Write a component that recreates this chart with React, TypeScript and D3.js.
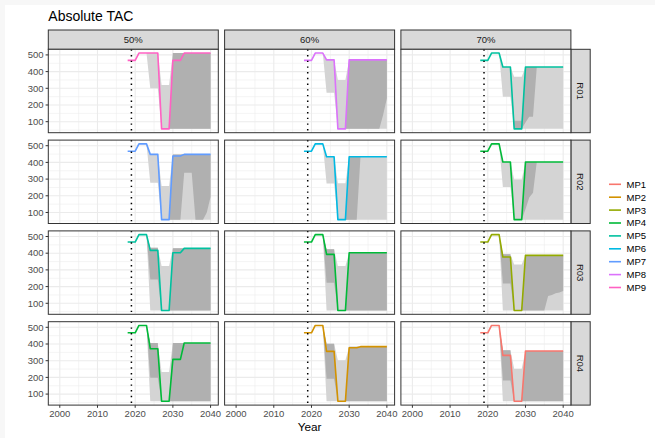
import * as d3 from "d3";

// facets
const scenarios = ["R01", "R02", "R03", "R04"];
const levels = ["50%", "60%", "70%"];
const mpNames = ["MP1", "MP2", "MP3", "MP4", "MP5", "MP6", "MP7", "MP8", "MP9"];
const mpColors = ["#F8766D", "#D39200", "#93AA00", "#00BA38", "#00C19F", "#00B9E3", "#619CFF", "#DB72FB", "#FF61C3"];
// which MP is drawn in each panel (row = scenario, column = level)
const panelMP = [
  [9, 8, 5],
  [7, 6, 4],
  [5, 4, 3],
  [4, 2, 1],
];

const xTicks = [2000, 2010, 2020, 2030, 2040];
const xMinor = [2005, 2015, 2025, 2035];
const yTicks = [100, 200, 300, 400, 500];
const yMinor = [50, 150, 250, 350, 450];
const startYear = 2019;

const years = [2018, 2019, 2020, 2021, 2022, 2023, 2024, 2025, 2026, 2027, 2028, 2029, 2030, 2031, 2032, 2033, 2034, 2035, 2036, 2037, 2038, 2039, 2040];
const ribbonYears = [2023, 2024, 2025, 2026, 2027, 2028, 2029, 2030, 2031, 2032, 2033, 2034, 2035, 2036, 2037, 2038, 2039, 2040];

// median TAC, one row per panel (R01 50/60/70, R02 ..., R04 ...)
const median = [
  [467, 467, 467, 511, 511, 511, 511, 511, 511, 57, 57, 57, 467, 467, 467, 511, 511, 511, 511, 511, 511, 511, 511],
  [467, 467, 467, 511, 511, 511, 470, 470, 470, 57, 57, 57, 470, 470, 470, 470, 470, 470, 470, 470, 470, 470, 470],
  [467, 467, 467, 511, 511, 511, 428, 428, 428, 57, 57, 57, 428, 428, 428, 428, 428, 428, 428, 428, 428, 428, 428],
  [467, 467, 467, 511, 511, 511, 448, 448, 448, 57, 57, 57, 438, 438, 438, 448, 448, 448, 448, 448, 448, 448, 448],
  [467, 467, 467, 511, 511, 511, 434, 434, 434, 57, 57, 57, 434, 434, 434, 434, 434, 434, 434, 434, 434, 434, 434],
  [467, 467, 467, 511, 511, 511, 402, 402, 402, 57, 57, 57, 402, 402, 402, 402, 402, 402, 402, 402, 402, 402, 402],
  [467, 467, 467, 511, 511, 511, 417, 417, 417, 57, 57, 57, 403, 403, 403, 429, 429, 429, 429, 429, 429, 429, 429],
  [467, 467, 467, 511, 511, 511, 393, 393, 393, 57, 57, 57, 403, 403, 403, 403, 403, 403, 403, 403, 403, 403, 403],
  [467, 467, 467, 511, 511, 511, 377, 377, 377, 57, 57, 57, 387, 387, 387, 387, 387, 387, 387, 387, 387, 387, 387],
  [467, 467, 467, 511, 511, 511, 372, 372, 372, 57, 57, 57, 308, 308, 308, 406, 406, 406, 406, 406, 406, 406, 406],
  [467, 467, 467, 511, 511, 511, 356, 356, 356, 57, 57, 57, 378, 378, 378, 384, 384, 384, 384, 384, 384, 384, 384],
  [467, 467, 467, 511, 511, 511, 332, 332, 332, 57, 57, 57, 358, 358, 358, 358, 358, 358, 358, 358, 358, 358, 358],
];

// outer interval (light grey)
const lo90 = [
  [511, 300, 300, 300, 57, 57, 57, 57, 57, 57, 57, 57, 57, 57, 57, 57, 57, 57],
  [511, 273, 273, 273, 57, 57, 57, 57, 57, 57, 57, 57, 57, 57, 57, 57, 57, 57],
  [511, 249, 249, 249, 57, 57, 57, 57, 57, 57, 57, 57, 57, 57, 57, 57, 57, 57],
  [511, 278, 278, 278, 57, 57, 57, 57, 57, 57, 57, 57, 57, 57, 57, 57, 57, 57],
  [511, 274, 274, 274, 57, 57, 57, 57, 57, 57, 57, 57, 57, 57, 57, 57, 57, 57],
  [511, 252, 252, 252, 57, 57, 57, 57, 57, 57, 57, 57, 57, 57, 57, 57, 57, 57],
  [511, 57, 57, 57, 57, 57, 57, 57, 57, 57, 57, 57, 57, 57, 57, 57, 57, 57],
  [511, 57, 57, 57, 57, 57, 57, 57, 57, 57, 57, 57, 57, 57, 57, 57, 57, 57],
  [511, 57, 57, 57, 57, 57, 57, 57, 57, 57, 57, 57, 57, 57, 57, 57, 57, 57],
  [511, 57, 57, 57, 57, 57, 57, 57, 57, 57, 57, 57, 57, 57, 57, 57, 57, 57],
  [511, 57, 57, 57, 57, 57, 57, 57, 57, 57, 57, 57, 57, 57, 57, 57, 57, 57],
  [511, 57, 57, 57, 57, 57, 57, 57, 57, 57, 57, 57, 57, 57, 57, 57, 57, 57],
];
const hi90 = [
  [511, 511, 511, 511, 320, 320, 320, 511, 511, 511, 511, 511, 511, 511, 511, 511, 511, 511],
  [511, 470, 470, 470, 349, 349, 349, 470, 470, 470, 470, 470, 470, 470, 470, 470, 470, 470],
  [511, 428, 428, 428, 369, 369, 369, 428, 428, 428, 428, 428, 428, 428, 428, 428, 428, 428],
  [511, 448, 448, 448, 258, 258, 258, 448, 448, 448, 448, 448, 448, 448, 448, 448, 448, 448],
  [511, 434, 434, 434, 275, 275, 275, 434, 434, 434, 434, 434, 434, 434, 434, 434, 434, 434],
  [511, 402, 402, 402, 298, 298, 298, 402, 402, 402, 402, 402, 402, 402, 402, 402, 402, 402],
  [511, 433, 433, 433, 323, 323, 323, 429, 429, 429, 429, 429, 429, 429, 429, 429, 429, 429],
  [511, 423, 423, 423, 323, 323, 323, 403, 403, 403, 403, 403, 403, 403, 403, 403, 403, 403],
  [511, 393, 393, 393, 333, 333, 333, 387, 387, 387, 387, 387, 387, 387, 387, 387, 387, 387],
  [511, 406, 406, 406, 232, 232, 232, 406, 406, 406, 406, 406, 406, 406, 406, 406, 406, 406],
  [511, 402, 402, 402, 302, 302, 302, 384, 384, 384, 384, 384, 384, 384, 384, 384, 384, 384],
  [511, 362, 362, 362, 252, 252, 252, 358, 358, 358, 358, 358, 358, 358, 358, 358, 358, 358],
];

// inner interval (dark grey)
const lo50 = [
  [511, 511, 511, 511, 57, 57, 57, 57, 57, 57, 57, 57, 57, 57, 57, 57, 57, 57],
  [511, 470, 470, 470, 57, 57, 57, 57, 57, 57, 57, 57, 57, 57, 57, 57, 140, 240],
  [511, 428, 428, 428, 57, 57, 57, 95, 130, 130, 428, 428, 428, 428, 428, 428, 428, 428],
  [511, 448, 448, 448, 57, 57, 57, 57, 57, 57, 338, 338, 338, 57, 57, 57, 100, 194],
  [511, 434, 434, 434, 57, 57, 57, 57, 57, 57, 434, 434, 434, 434, 434, 434, 434, 434],
  [511, 402, 402, 402, 57, 57, 57, 120, 190, 218, 402, 402, 402, 402, 402, 402, 402, 402],
  [511, 243, 243, 243, 57, 57, 57, 57, 57, 57, 57, 57, 57, 57, 57, 57, 57, 57],
  [511, 223, 223, 223, 57, 57, 57, 57, 57, 57, 57, 57, 57, 57, 57, 57, 57, 57],
  [511, 219, 219, 219, 57, 57, 57, 57, 57, 57, 57, 57, 57, 143, 150, 160, 165, 173],
  [511, 198, 198, 198, 57, 57, 57, 57, 57, 57, 57, 57, 57, 57, 57, 57, 57, 57],
  [511, 192, 192, 192, 57, 57, 57, 57, 57, 57, 57, 57, 57, 57, 57, 57, 57, 57],
  [511, 182, 182, 182, 57, 57, 57, 57, 57, 57, 57, 57, 57, 57, 57, 57, 57, 57],
];
const hi50 = [
  [511, 511, 511, 511, 57, 57, 57, 511, 511, 511, 511, 511, 511, 511, 511, 511, 511, 511],
  [511, 470, 470, 470, 57, 57, 57, 470, 470, 470, 470, 470, 470, 470, 470, 470, 470, 470],
  [511, 428, 428, 428, 105, 105, 105, 428, 428, 428, 428, 428, 428, 428, 428, 428, 428, 428],
  [511, 448, 448, 448, 57, 57, 57, 448, 448, 448, 448, 448, 448, 448, 448, 448, 448, 448],
  [511, 434, 434, 434, 57, 57, 57, 434, 434, 434, 434, 434, 434, 434, 434, 434, 434, 434],
  [511, 402, 402, 402, 57, 57, 57, 402, 402, 402, 402, 402, 402, 402, 402, 402, 402, 402],
  [511, 433, 433, 433, 57, 57, 57, 429, 429, 429, 429, 429, 429, 429, 429, 429, 429, 429],
  [511, 423, 423, 423, 57, 57, 57, 403, 403, 403, 403, 403, 403, 403, 403, 403, 403, 403],
  [511, 393, 393, 393, 57, 57, 57, 387, 387, 387, 387, 387, 387, 387, 387, 387, 387, 387],
  [511, 406, 406, 406, 57, 57, 57, 406, 406, 406, 406, 406, 406, 406, 406, 406, 406, 406],
  [511, 402, 402, 402, 57, 57, 57, 384, 384, 384, 384, 384, 384, 384, 384, 384, 384, 384],
  [511, 362, 362, 362, 57, 57, 57, 358, 358, 358, 358, 358, 358, 358, 358, 358, 358, 358],
];

const FONT = "'Liberation Sans', Arial, Helvetica, sans-serif";

export default function App() {
  const width = 655;
  const height = 438;
  const panelW = 170;
  const panelH = 83.4;
  const colX = [48.3, 224.6, 400.9];
  const rowY = [49.3, 140.1, 230.9, 321.7];
  const stripH = 19.3;

  const x = d3.scaleLinear().domain([1996.95, 2042.05]).range([0, panelW]);
  const y = d3.scaleLinear().domain([34, 533.6]).range([panelH, 0]);

  const line = d3
    .line<number>()
    .x((_, i) => x(years[i]))
    .y((d) => y(d));

  const band = (lo: number[], hi: number[]) =>
    d3
      .area<number>()
      .x((_, i) => x(ribbonYears[i]))
      .y0((_, i) => y(lo[i]))
      .y1((_, i) => y(hi[i]))(lo) || "";

  const lastRow = scenarios.length - 1;
  const right = colX[2] + panelW;

  return (
    <svg
      width={width}
      height={height}
      style={{ position: "absolute", left: 0, top: 0, fontFamily: FONT }}
    >
      <rect width={width} height={height} fill="#F7F7F7" />
      <rect x={5} y={5} width={width - 5} height={height - 5} fill="#FFFFFF" />

      <text x={48.3} y={20.7} fontSize={14} fill="#000">
        Absolute TAC
      </text>

      {/* column strips */}
      {levels.map((lv, c) => (
        <g key={lv} transform={`translate(${colX[c]},${rowY[0] - stripH})`}>
          <rect width={panelW} height={stripH} fill="#D9D9D9" stroke="#333333" strokeWidth={1} />
          <text x={panelW / 2} y={stripH / 2 + 3.3} textAnchor="middle" fontSize={9.5} fill="#1A1A1A">
            {lv}
          </text>
        </g>
      ))}

      {/* row strips */}
      {scenarios.map((sc, r) => (
        <g key={sc} transform={`translate(${right},${rowY[r]})`}>
          <rect width={stripH} height={panelH} fill="#D9D9D9" stroke="#333333" strokeWidth={1} />
          <text
            transform={`translate(${stripH / 2 - 3.3},${panelH / 2}) rotate(90)`}
            textAnchor="middle"
            fontSize={9.5}
            fill="#1A1A1A"
          >
            {sc}
          </text>
        </g>
      ))}

      {scenarios.map((sc, r) =>
        levels.map((lv, c) => {
          const p = r * 3 + c;
          const mp = panelMP[r][c];
          return (
            <g key={`${sc}-${lv}`} transform={`translate(${colX[c]},${rowY[r]})`}>
              <rect width={panelW} height={panelH} fill="#FFFFFF" />
              {xMinor.map((t) => (
                <line key={`xm${t}`} x1={x(t)} x2={x(t)} y1={0} y2={panelH} stroke="#EBEBEB" strokeWidth={0.55} />
              ))}
              {yMinor.map((t) => (
                <line key={`ym${t}`} x1={0} x2={panelW} y1={y(t)} y2={y(t)} stroke="#EBEBEB" strokeWidth={0.55} />
              ))}
              {xTicks.map((t) => (
                <line key={`x${t}`} x1={x(t)} x2={x(t)} y1={0} y2={panelH} stroke="#EBEBEB" strokeWidth={1.1} />
              ))}
              {yTicks.map((t) => (
                <line key={`y${t}`} x1={0} x2={panelW} y1={y(t)} y2={y(t)} stroke="#EBEBEB" strokeWidth={1.1} />
              ))}

              <path d={band(lo90[p], hi90[p])} fill="#D4D4D4" />
              <path d={band(lo50[p], hi50[p])} fill="#B0B0B0" />

              <path
                d={line(median[p]) || ""}
                fill="none"
                stroke={mpColors[mp - 1]}
                strokeWidth={1.6}
                strokeLinejoin="round"
              />

              <line
                x1={x(startYear)}
                x2={x(startYear)}
                y1={0}
                y2={panelH}
                stroke="#000"
                strokeWidth={1.5}
                strokeDasharray="1.4 4.3"
              />

              <rect width={panelW} height={panelH} fill="none" stroke="#333333" strokeWidth={1} />

              {c === 0 &&
                yTicks.map((t) => (
                  <g key={`yt${t}`}>
                    <line x1={-2.7} x2={0} y1={y(t)} y2={y(t)} stroke="#333333" strokeWidth={1} />
                    <text x={-4.8} y={y(t) + 3.3} textAnchor="end" fontSize={9.5} fill="#4D4D4D">
                      {t}
                    </text>
                  </g>
                ))}

              {r === lastRow &&
                xTicks.map((t) => (
                  <g key={`xt${t}`}>
                    <line x1={x(t)} x2={x(t)} y1={panelH} y2={panelH + 2.7} stroke="#333333" strokeWidth={1} />
                    <text x={x(t)} y={panelH + 12.3} textAnchor="middle" fontSize={9.5} fill="#4D4D4D">
                      {t}
                    </text>
                  </g>
                ))}
            </g>
          );
        })
      )}

      <text x={(colX[0] + right) / 2} y={431} textAnchor="middle" fontSize={11.8} fill="#000">
        Year
      </text>

      {/* legend */}
      {mpNames.map((name, i) => {
        const ly = 184.3 + i * 12.9;
        return (
          <g key={name}>
            <line x1={609} x2={621} y1={ly} y2={ly} stroke={mpColors[i]} strokeWidth={1.6} />
            <text x={626.5} y={ly + 3.4} fontSize={9.5} fill="#000">
              {name}
            </text>
          </g>
        );
      })}
    </svg>
  );
}
